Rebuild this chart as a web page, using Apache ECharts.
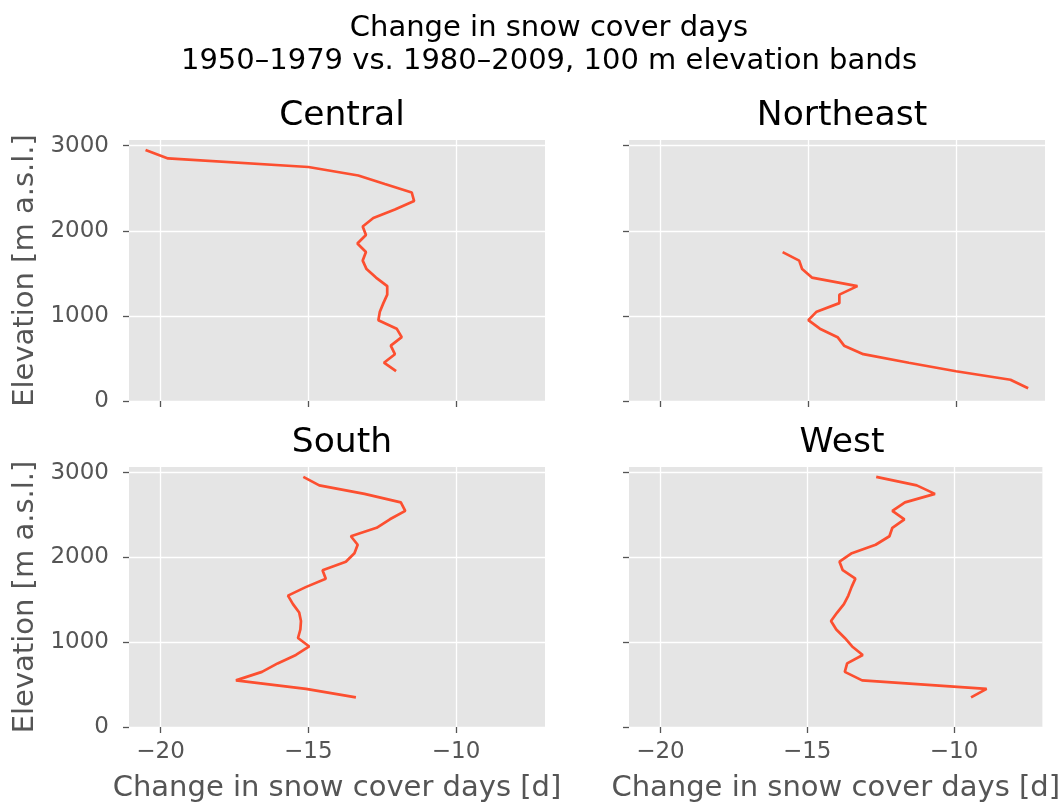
<!DOCTYPE html>
<html>
<head>
<meta charset="utf-8">
<script src="https://cdn.jsdelivr.net/npm/echarts@6/dist/echarts.min.js"></script>
<style>
html,body{margin:0;padding:0;background:#fff;}
#chart{width:1062px;height:804px;}
</style>
</head>
<body>
<div id="chart"></div>
<script>
// ---- data ----
const regions = ['Central', 'Northeast', 'South', 'West'];
const elevMain = [350, 450, 550, 650, 750, 850, 950, 1050, 1150, 1250, 1350, 1450, 1550, 1650, 1750, 1850, 1950, 2050, 2150, 2250, 2350, 2450, 2550, 2650, 2750, 2850, 2950];
const elevNortheast = [150, 250, 350, 450, 550, 650, 750, 850, 950, 1050, 1150, 1250, 1350, 1450, 1550, 1650, 1750];
const centralDays = [-12.03, -12.44, -12.07, -12.21, -11.84, -12.01, -12.63, -12.58, -12.46, -12.33, -12.33, -12.71, -13.03, -13.16, -13.05, -13.34, -13.05, -13.16, -12.80, -12.07, -11.42, -11.50, -12.41, -13.31, -15.00, -19.75, -20.51];
const northeastDays = [-7.56, -8.16, -10.0, -11.6, -13.14, -13.79, -14.01, -14.61, -15.0, -14.72, -13.95, -13.95, -13.34, -14.88, -15.21, -15.31, -15.87];
const southDays = [-13.39, -15.08, -17.45, -16.57, -16.04, -15.42, -14.97, -15.35, -15.27, -15.25, -15.31, -15.52, -15.69, -15.09, -14.41, -14.52, -13.73, -13.44, -13.33, -13.56, -12.69, -12.24, -11.72, -11.87, -13.10, -14.63, -15.17];
const westDays = [-9.42, -8.89, -13.13, -13.72, -13.64, -13.11, -13.47, -13.72, -14.01, -14.19, -13.98, -13.75, -13.60, -13.49, -13.36, -13.79, -13.90, -13.48, -12.67, -12.20, -12.10, -11.69, -12.10, -11.67, -10.65, -11.27, -12.65];
const xTicks = [-20, -15, -10];
const yTicks = [0, 1000, 2000, 3000];
const suptitle = 'Change in snow cover days\n1950\u20131979 vs. 1980\u20132009, 100 m elevation bands';
const xLabel = 'Change in snow cover days [d]';
const yLabel = 'Elevation [m a.s.l.]';

// ---- layout ----
const FONT = 'DejaVu Sans';
const panels = [
  {left: 129, top: 140, days: centralDays, elev: elevMain, bottom: false, leftCol: true},
  {left: 629, top: 140, days: northeastDays, elev: elevNortheast, bottom: false, leftCol: false},
  {left: 129, top: 467, days: southDays, elev: elevMain, bottom: true, leftCol: true},
  {left: 629, top: 467, days: westDays, elev: elevMain, bottom: true, leftCol: false}
];
const W = 416, H = 261;
const fmtX = v => (v < 0 ? '\u2212' + Math.abs(v) : String(v));
const fmtY = v => String(v);

const grids = [], xAxes = [], yAxes = [], series = [];
const titles = [{
  text: suptitle, left: 544, top: 7, textAlign: 'center',
  textStyle: {fontFamily: FONT, fontSize: 29, fontWeight: 'normal', color: '#000', lineHeight: 33}
}];

panels.forEach((p, i) => {
  grids.push({left: p.left, top: p.top, width: W, height: H, show: true,
    backgroundColor: '#E5E5E5', borderWidth: 0, containLabel: false});
  titles.push({
    text: regions[i], left: p.left + W / 2, top: p.top - 49, textAlign: 'center',
    textStyle: {fontFamily: FONT, fontSize: 34.5, fontWeight: 'normal', color: '#000', lineHeight: 40}
  });
  xAxes.push({
    type: 'value', gridIndex: i, min: -21.07, max: -6.99,
    axisLine: {show: false},
    axisTick: {show: true, length: 6, customValues: xTicks, lineStyle: {color: '#555', width: 1.3}},
    axisLabel: {show: p.bottom, customValues: xTicks, formatter: fmtX, fontFamily: FONT, fontSize: 23, color: '#555', margin: 14},
    splitLine: {show: true, lineStyle: {color: '#fff', width: 1.3}},
    name: p.bottom ? xLabel : '', nameLocation: 'middle', nameGap: 47,
    nameTextStyle: {fontFamily: FONT, fontSize: 29, color: '#555'}
  });
  yAxes.push({
    type: 'value', gridIndex: i, min: 0, max: 3067,
    axisLine: {show: false},
    axisTick: {show: true, length: 6, customValues: yTicks, lineStyle: {color: '#555', width: 1.3}},
    axisLabel: {show: p.leftCol, customValues: yTicks, formatter: fmtY, fontFamily: FONT, fontSize: 23, color: '#555', margin: 20},
    splitLine: {show: true, lineStyle: {color: '#fff', width: 1.3}},
    name: p.leftCol ? yLabel : '', nameLocation: 'middle', nameGap: 89, nameRotate: 90,
    nameTextStyle: {fontFamily: FONT, fontSize: 29, color: '#555'}
  });
  series.push({
    type: 'line', xAxisIndex: i, yAxisIndex: i, name: regions[i],
    data: p.days.map((d, k) => [d, p.elev[k]]),
    showSymbol: false, symbol: 'none',
    lineStyle: {color: '#fc4f30', width: 2.7},
    itemStyle: {color: '#fc4f30'},
    animation: false
  });
});

const chart = echarts.init(document.getElementById('chart'), null, {renderer: 'canvas'});
chart.setOption({
  backgroundColor: '#fff',
  animation: false,
  textStyle: {fontFamily: FONT},
  title: titles,
  grid: grids,
  xAxis: xAxes,
  yAxis: yAxes,
  series: series
});
</script>
</body>
</html>
